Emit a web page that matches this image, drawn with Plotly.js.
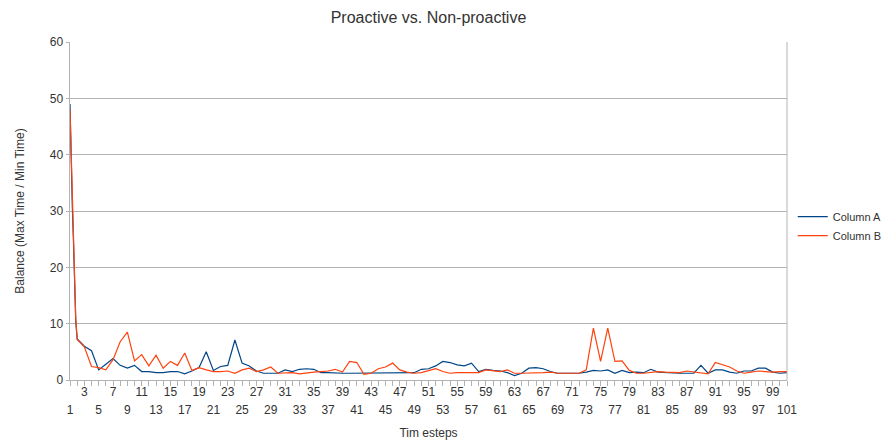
<!DOCTYPE html>
<html>
<head>
<meta charset="utf-8">
<script src="https://cdn.plot.ly/plotly-3.0.1.min.js"></script>
<style>html,body{margin:0;padding:0;background:#fff;}#chart{width:882px;height:440px;}</style>
</head>
<body>
<div id="chart"></div>
<script>
// Early sub-steps between time step 1 and 2 (steep initial drop)
const spikeX = [1, 1.07, 1.14, 1.32, 1.5, 1.63, 1.8];
const spikeA = [49, 45, 38, 31, 24, 17.5, 10.5];
const spikeB = [48, 45, 38, 31, 24, 17.5, 11];

// Time steps 2..101
const steps = [];
for (let i = 2; i <= 101; i++) steps.push(i);

const columnA = [
  7.3, 6.0, 5.2, 1.8, 2.8, 3.8, 2.6, 2.1, 2.6, 1.5,   // 2-11
  1.5, 1.3, 1.3, 1.5, 1.5, 1.1, 1.6, 2.2, 5.0, 1.7,   // 12-21
  2.4, 2.6, 7.1, 3.0, 2.5, 1.6, 1.2, 1.2, 1.2, 1.8,   // 22-31
  1.5, 1.9, 2.0, 1.9, 1.3, 1.3, 1.2, 1.2, 1.2, 1.2,   // 32-41
  1.2, 1.2, 1.2, 1.2, 1.2, 1.2, 1.2, 1.3, 1.9, 2.0,   // 42-51
  2.5, 3.3, 3.1, 2.7, 2.5, 3.0, 1.5, 1.9, 1.7, 1.6,   // 52-61
  1.3, 0.8, 1.2, 2.1, 2.2, 2.0, 1.5, 1.2, 1.2, 1.2,   // 62-71
  1.2, 1.4, 1.7, 1.6, 1.8, 1.2, 1.7, 1.3, 1.4, 1.3,   // 72-81
  1.9, 1.4, 1.3, 1.2, 1.2, 1.2, 1.2, 2.6, 1.2, 1.8,   // 82-91
  1.8, 1.4, 1.2, 1.6, 1.6, 2.1, 2.1, 1.4, 1.2, 1.3    // 92-101
];
const columnB = [
  7.2, 5.9, 2.4, 2.2, 1.8, 3.6, 6.8, 8.5, 3.4, 4.5,   // 2-11
  2.5, 4.4, 2.1, 3.3, 2.6, 4.8, 1.7, 2.2, 1.8, 1.5,   // 12-21
  1.5, 1.6, 1.2, 1.8, 2.1, 1.5, 1.8, 2.3, 1.2, 1.3,   // 22-31
  1.3, 1.1, 1.3, 1.4, 1.5, 1.6, 1.9, 1.4, 3.3, 3.1,   // 32-41
  1.0, 1.2, 2.0, 2.3, 3.0, 1.8, 1.4, 1.2, 1.3, 1.6,   // 42-51
  2.0, 1.5, 1.2, 1.3, 1.3, 1.3, 1.3, 1.8, 1.7, 1.5,   // 52-61
  1.8, 1.2, 1.2, 1.2, 1.2, 1.3, 1.4, 1.2, 1.2, 1.2,   // 62-71
  1.2, 1.8, 9.2, 3.3, 9.2, 3.3, 3.4, 1.7, 1.2, 1.2,   // 72-81
  1.3, 1.5, 1.4, 1.3, 1.3, 1.6, 1.4, 1.2, 1.1, 3.1,   // 82-91
  2.7, 2.3, 1.6, 1.2, 1.4, 1.6, 1.5, 1.4, 1.5, 1.5    // 92-101
];

const tickLower = [];  // 1, 5, 9, ...
const tickUpper = [];  // 3, 7, 11, ...
for (let i = 1; i <= 101; i += 4) tickLower.push(i);
for (let i = 3; i <= 101; i += 4) tickUpper.push(i);
const allTicks = [];
for (let i = 1; i <= 101; i++) allTicks.push(i);
const lowerText = allTicks.map(v => (tickLower.includes(v) ? String(v) : ''));

const xs = spikeX.concat(steps);
const ya = spikeA.concat(columnA);
const yb = spikeB.concat(columnB);

const font = 'Liberation Sans, Arial, sans-serif';
const traces = [
  {x: xs, y: ya, type: 'scatter', mode: 'lines', name: 'Column A',
   line: {color: '#004586', width: 1.2}},
  {x: xs, y: yb, type: 'scatter', mode: 'lines', name: 'Column B',
   line: {color: '#ff420e', width: 1.2}},
  {x: [1], y: [null], xaxis: 'x2', yaxis: 'y', showlegend: false, hoverinfo: 'skip'}
];

const layout = {
  width: 882, height: 440,
  margin: {l: 70, r: 95, t: 42, b: 60, autoexpand: false},
  paper_bgcolor: '#fff', plot_bgcolor: '#fff',
  font: {family: font, size: 12, color: '#333'},
  title: {text: 'Proactive vs. Non-proactive', font: {family: font, size: 16, color: '#333'},
          x: 0.5, xanchor: 'center', y: 0.96, yanchor: 'middle', xref: 'paper'},
  xaxis: {
    range: [1, 101], tickmode: 'array', tickvals: allTicks, ticktext: lowerText,
    ticks: 'outside', ticklen: 5, tickcolor: '#b3b3b3', tickwidth: 1,
    showgrid: false, zeroline: false, showline: true, linecolor: '#b3b3b3', linewidth: 1,
    ticklabelstandoff: 14,
    tickfont: {family: font, size: 12, color: '#333'},
    title: {text: 'Tim esteps', font: {family: font, size: 12, color: '#333'}, standoff: 12}
  },
  xaxis2: {
    overlaying: 'x', side: 'bottom', anchor: 'y', range: [1, 101],
    tickmode: 'array', tickvals: tickUpper, ticks: '', showgrid: false, zeroline: false,
    showline: false, ticklabelstandoff: 3,
    tickfont: {family: font, size: 12, color: '#333'}
  },
  yaxis: {
    range: [0, 60], dtick: 10, tick0: 0,
    showgrid: true, gridcolor: '#b3b3b3', gridwidth: 1,
    zeroline: false, showline: true, linecolor: '#b3b3b3', linewidth: 1.5,
    ticks: 'outside', ticklen: 3, tickcolor: '#b3b3b3',
    tickfont: {family: font, size: 12, color: '#333'},
    title: {text: 'Balance (Max Time / Min Time)', font: {family: font, size: 12, color: '#333'}, standoff: 22}
  },
  shapes: [
    {type: 'line', xref: 'paper', yref: 'paper', x0: 1, x1: 1, y0: 0, y1: 1,
     line: {color: '#b3b3b3', width: 1}}
  ],
  legend: {
    x: 1.008, xanchor: 'left', y: 0.455, yanchor: 'middle',
    font: {family: font, size: 11, color: '#333'}, bgcolor: 'rgba(0,0,0,0)',
    tracegroupgap: 0, itemwidth: 30
  },
  showlegend: true
};

Plotly.newPlot('chart', traces, layout, {displayModeBar: false, staticPlot: true});
</script>
</body>
</html>
